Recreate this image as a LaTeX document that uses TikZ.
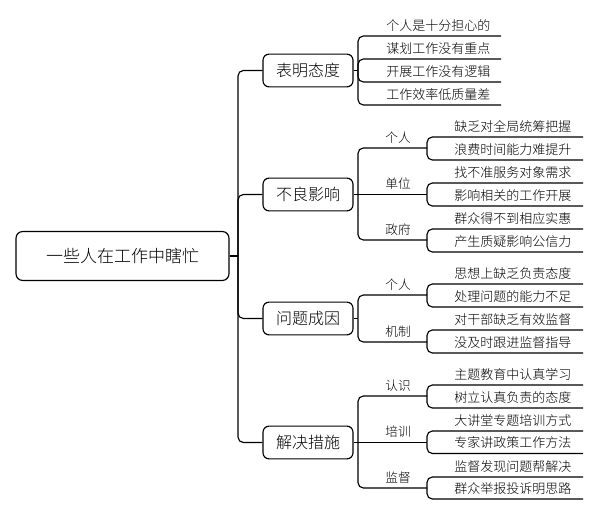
\documentclass[tikz,border=0pt]{standalone}
\usepackage{fontspec}
\setmainfont{Noto Sans CJK SC Light}
\newcommand{\mkleafA}[3]{%
  \coordinate (#1-e) at (501,#2);
  \node[leaftext] (#1) at (386,#2-5.6) {#3};}
\newcommand{\mkleafB}[3]{%
  \coordinate (#1-e) at (583,#2);
  \node[leaftext] (#1) at (454,#2-5.6) {#3};}
\newcommand{\mksub}[3]{%
  \coordinate (#1-e) at (427,#2);
  \node[sublabel] (#1) at (398,#2-5.6) {#3};}
\begin{document}
\begin{tikzpicture}[x=0.75pt,y=-0.75pt,line join=round]
\tikzset{
  conn/.style={line width=0.85pt, rounded corners=4pt},
  rootbox/.style={draw, line width=0.85pt, rounded corners=5pt, minimum width=159.75pt, minimum height=36.75pt, inner sep=0, font=\fontsize{12.75pt}{15pt}\selectfont},
  topic/.style={draw, line width=0.85pt, rounded corners=4.5pt, minimum width=67.5pt, minimum height=24.5pt, inner sep=0, font=\fontsize{12pt}{14pt}\selectfont},
  leaftext/.style={inner sep=0, anchor=base west, font=\fontsize{9.75pt}{12pt}\selectfont},
  sublabel/.style={inner sep=0, anchor=base, font=\fontsize{9.5pt}{12pt}\selectfont},
}
\useasboundingbox (0,0) rectangle (599,516);
\fill[white] (0,0) rectangle (599,516);

% root and main topics
\node[rootbox] (root) at (122.5,256) {一些人在工作中瞎忙};
\node[topic] (t1) at (308,70.5) {表明态度};
\node[topic] (t2) at (308,194.5) {不良影响};
\node[topic] (t3) at (308,318.5) {问题成因};
\node[topic] (t4) at (308,442.5) {解决措施};

\coordinate (j0) at (238,256);
\coordinate (k1) at (358,70.5);
\coordinate (k2) at (358,194.5);
\coordinate (k3) at (358,318.5);
\coordinate (k4) at (358,442.5);

\draw[conn] (root.east) -- (j0);
\foreach \t in {t1,t2,t3,t4} \draw[conn] (j0) |- (\t.west);

% branch 1
\mkleafA{a1}{36}{个人是十分担心的}
\mkleafA{a2}{59}{谋划工作没有重点}
\mkleafA{a3}{82}{开展工作没有逻辑}
\mkleafA{a4}{105}{工作效率低质量差}
\draw[conn] (t1.east) -- (k1);
\foreach \n in {a1,a2,a3,a4} \draw[conn] (k1) |- (\n-e);

% branch 2
\mksub{s21}{148}{个人}
\mksub{s22}{194.5}{单位}
\mksub{s23}{240}{政府}
\mkleafB{b1}{137}{缺乏对全局统筹把握}
\mkleafB{b2}{160}{浪费时间能力难提升}
\mkleafB{b3}{183}{找不准服务对象需求}
\mkleafB{b4}{206}{影响相关的工作开展}
\mkleafB{b5}{229}{群众得不到相应实惠}
\mkleafB{b6}{252}{产生质疑影响公信力}
\draw[conn] (t2.east) -- (s22-e);
\draw[conn] (k2) |- (s21-e);
\draw[conn] (k2) |- (s23-e);
\draw[conn] (s21-e) |- (b1-e);
\draw[conn] (s21-e) |- (b2-e);
\draw[conn] (s22-e) |- (b3-e);
\draw[conn] (s22-e) |- (b4-e);
\draw[conn] (s23-e) |- (b5-e);
\draw[conn] (s23-e) |- (b6-e);

% branch 3
\mksub{s31}{295}{个人}
\mksub{s32}{342}{机制}
\mkleafB{c1}{284}{思想上缺乏负责态度}
\mkleafB{c2}{307}{处理问题的能力不足}
\mkleafB{c3}{330}{对干部缺乏有效监督}
\mkleafB{c4}{353}{没及时跟进监督指导}
\draw[conn] (t3.east) -- (k3);
\draw[conn] (k3) |- (s31-e);
\draw[conn] (k3) |- (s32-e);
\draw[conn] (s31-e) |- (c1-e);
\draw[conn] (s31-e) |- (c2-e);
\draw[conn] (s32-e) |- (c3-e);
\draw[conn] (s32-e) |- (c4-e);

% branch 4
\mksub{s41}{396}{认识}
\mksub{s42}{442.5}{培训}
\mksub{s43}{488}{监督}
\mkleafB{d1}{385}{主题教育中认真学习}
\mkleafB{d2}{408}{树立认真负责的态度}
\mkleafB{d3}{431}{大讲堂专题培训方式}
\mkleafB{d4}{453.5}{专家讲政策工作方法}
\mkleafB{d5}{477}{监督发现问题帮解决}
\mkleafB{d6}{499}{群众举报投诉明思路}
\draw[conn] (t4.east) -- (s42-e);
\draw[conn] (k4) |- (s41-e);
\draw[conn] (k4) |- (s43-e);
\draw[conn] (s41-e) |- (d1-e);
\draw[conn] (s41-e) |- (d2-e);
\draw[conn] (s42-e) |- (d3-e);
\draw[conn] (s42-e) |- (d4-e);
\draw[conn] (s43-e) |- (d5-e);
\draw[conn] (s43-e) |- (d6-e);
\end{tikzpicture}
\end{document}
